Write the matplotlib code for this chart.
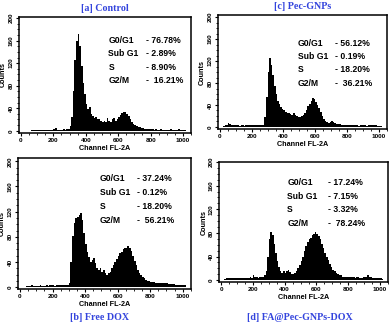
import matplotlib
matplotlib.use("Agg")
import matplotlib.pyplot as plt
from matplotlib.ticker import MultipleLocator
import numpy as np

# histogram counts in 10-channel bins starting at channel 0
bin_width = 10

counts_control = [
    0, 0, 0, 0, 0, 0, 1, 2, 2, 2,
    2, 2, 2, 2, 2, 2, 1, 2, 2, 2,
    3, 5, 2, 2, 2, 2, 3, 2, 3, 4,
    8, 25, 70, 125, 160, 172, 150, 115, 85, 65,
    48, 38, 42, 30, 26, 22, 24, 20, 20, 18,
    16, 18, 15, 22, 18, 16, 20, 22, 18, 20,
    24, 28, 32, 34, 33, 30, 26, 20, 15, 12,
    10, 8, 7, 6, 5, 5, 4, 4, 3, 3,
    3, 3, 2, 3, 2, 2, 3, 2, 2, 2,
    2, 2, 3, 2, 2, 2, 2, 3, 2, 2,
    2, 1, 0]

counts_free_dox = [
    0, 0, 0, 1, 2, 2, 2, 3, 2, 2,
    2, 2, 3, 2, 2, 2, 3, 2, 3, 3,
    3, 2, 3, 3, 3, 3, 3, 4, 4, 4,
    6, 40, 82, 102, 110, 112, 114, 118, 106, 86,
    68, 56, 48, 40, 44, 46, 38, 30, 28, 30,
    25, 28, 22, 20, 22, 25, 30, 35, 40, 45,
    50, 54, 56, 60, 62, 63, 66, 62, 57, 50,
    42, 35, 28, 23, 20, 16, 15, 12, 10, 10,
    9, 8, 8, 7, 7, 6, 7, 6, 6, 6,
    6, 5, 5, 5, 5, 4, 4, 4, 4, 4,
    4, 3, 0]

counts_pec_gnps = [
    0, 0, 2, 3, 4, 8, 5, 3, 3, 3,
    3, 3, 2, 3, 3, 2, 3, 3, 3, 3,
    3, 3, 4, 3, 3, 3, 3, 4, 18, 55,
    100, 125, 112, 95, 75, 60, 48, 42, 36, 33,
    30, 28, 26, 25, 24, 22, 26, 22, 20, 18,
    18, 20, 22, 26, 30, 38, 42, 48, 53, 50,
    46, 40, 35, 27, 20, 14, 11, 9, 8, 9,
    10, 9, 7, 6, 5, 5, 4, 4, 4, 3,
    3, 4, 3, 3, 3, 3, 3, 2, 3, 3,
    3, 3, 2, 3, 3, 3, 4, 3, 3, 2,
    2, 1, 0]

counts_fa_dox = [
    0, 0, 2, 3, 4, 4, 3, 4, 3, 3,
    3, 4, 3, 4, 4, 3, 4, 4, 5, 4,
    8, 5, 5, 4, 5, 6, 6, 8, 15, 40,
    70, 82, 76, 62, 46, 32, 22, 16, 13, 15,
    12, 15, 18, 14, 10, 10, 12, 15, 20, 26,
    32, 40, 50, 58, 65, 70, 72, 76, 78, 82,
    78, 74, 70, 62, 55, 46, 40, 35, 28, 22,
    18, 15, 12, 10, 8, 8, 6, 6, 5, 5,
    5, 6, 5, 5, 4, 5, 5, 4, 4, 5,
    5, 6, 8, 6, 5, 4, 4, 3, 3, 3,
    3, 2, 0]

titles = ["[a] Control", "[b] Free DOX", "[c] Pec-GNPs", "[d] FA@Pec-GNPs-DOX"]
phase_names = ["G0/G1", "Sub G1", "S", "G2/M"]
phase_control = ["- 76.78%", "- 2.89%", "- 8.90%", "-  16.21%"]
phase_free_dox = ["- 37.24%", "- 0.12%", "- 18.20%", "-  56.21%"]
phase_pec_gnps = ["- 56.12%", "- 0.19%", "- 18.20%", "-  36.21%"]
phase_fa_dox = ["- 17.24%", "- 7.15%", "- 3.32%", "-  78.24%"]

title_color = "#3344dd"

fig = plt.figure(figsize=(3.92, 3.26), dpi=100)

# (axes rect, counts, phase values, title, title at top?, text x, value x, first row y, row step, ylim)
panels = [
    ([0.0485, 0.592, 0.439, 0.356], counts_control, phase_control, titles[0], True, 540, 770, 161, 24, (-4, 202)),
    ([0.046, 0.113, 0.441, 0.402], counts_free_dox, phase_free_dox, titles[1], False, 490, 720, 172, 22, (-3, 205)),
    ([0.556, 0.604, 0.431, 0.350], counts_pec_gnps, phase_pec_gnps, titles[2], True, 490, 723, 152, 24, (-4, 204)),
    ([0.559, 0.135, 0.431, 0.368], counts_fa_dox, phase_fa_dox, titles[3], False, 416, 671, 165, 23, (-3, 200)),
]

for rect, counts, values, title, top, tx, vx, y0, dy, ylim in panels:
    ax = fig.add_axes(rect)
    edges = np.arange(len(counts)) * bin_width
    ax.bar(edges, counts, width=bin_width, align="edge", color="black", linewidth=0)
    ax.set_xlim(-12, 1050)
    ax.set_ylim(*ylim)
    ax.xaxis.set_major_locator(MultipleLocator(200))
    ax.xaxis.set_minor_locator(MultipleLocator(50))
    ax.yaxis.set_major_locator(MultipleLocator(40))
    ax.yaxis.set_minor_locator(MultipleLocator(10))
    ax.tick_params(which="major", length=2.5, width=0.8, pad=1.2, labelsize=4.6)
    ax.tick_params(which="minor", length=1.5, width=0.6)
    for lab in ax.get_xticklabels() + ax.get_yticklabels():
        lab.set_fontweight("bold")
        lab.set_family("Liberation Sans")
    for lab in ax.get_yticklabels():
        lab.set_rotation(90)
        lab.set_va("center")
    for s in ax.spines.values():
        s.set_linewidth(1.1)
    ax.set_xlabel("Channel FL-2A", fontsize=5.2, fontweight="bold", family="Liberation Sans", labelpad=1.5)
    ax.set_ylabel("Counts", fontsize=5.2, fontweight="bold", family="Liberation Sans", labelpad=1.2)

    for i, (name, val) in enumerate(zip(phase_names, values)):
        ax.text(tx, y0 - i * dy, name, fontsize=6.2, fontweight="bold",
                family="Liberation Sans", va="center", ha="left")
        ax.text(vx, y0 - i * dy, val, fontsize=6.2, fontweight="bold",
                family="Liberation Sans", va="center", ha="left")

    if top:
        ax.text(0.5, 1.035, title, transform=ax.transAxes, ha="center", va="bottom",
                fontsize=7.2, fontweight="bold", family="Liberation Serif", color=title_color)

# bottom row titles sit under the x labels
fig.text(100 / 392, 1 - 318 / 326, titles[1], ha="center", va="center",
         fontsize=7.2, fontweight="bold", family="Liberation Serif", color=title_color)
fig.text(300 / 392, 1 - 318 / 326, titles[3], ha="center", va="center",
         fontsize=7.2, fontweight="bold", family="Liberation Serif", color=title_color)

fig.savefig("out.png", dpi=100)
